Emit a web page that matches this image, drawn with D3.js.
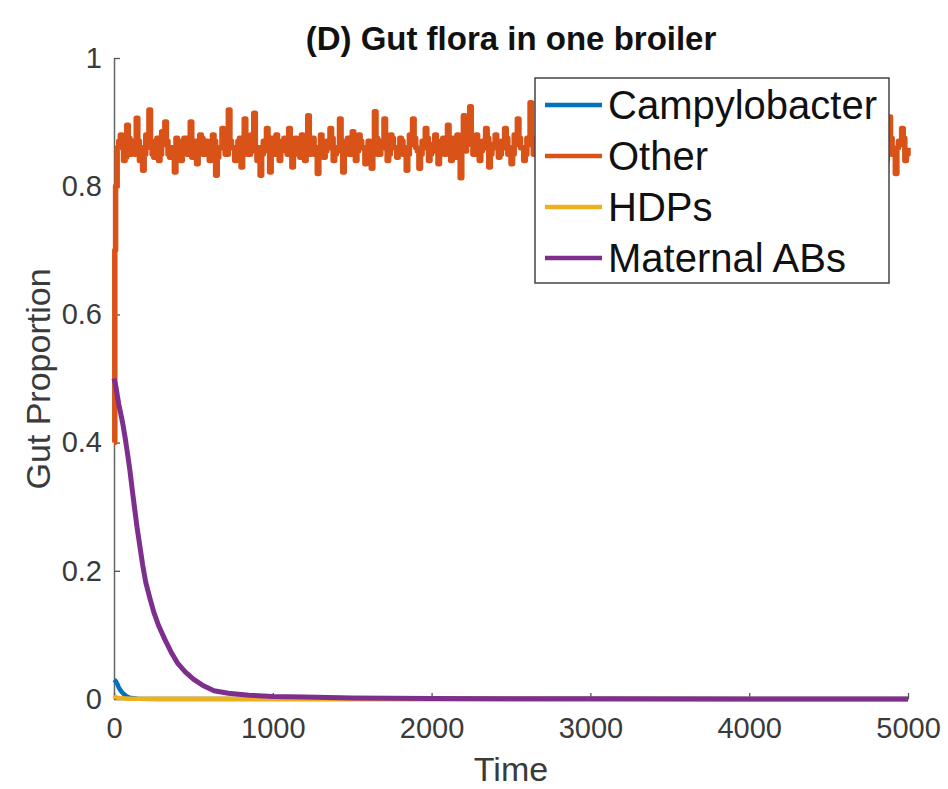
<!DOCTYPE html>
<html>
<head>
<meta charset="utf-8">
<script src="https://cdn.jsdelivr.net/npm/d3@7"></script>
<style>
  body { margin: 0; background: #fff; }
  text { font-family: "Liberation Sans", Arial, Helvetica, sans-serif; }
</style>
</head>
<body>
<div id="viz"></div>
<script>
// series
var seriesNames = ["Campylobacter", "Other", "HDPs", "Maternal ABs"];
var seriesColors = ["#0072BD", "#D95319", "#EDB120", "#7E2F8E"];

var campyT = [0, 10, 20, 30, 45, 60, 80, 100, 150, 300, 5000];
var campyV = [0.03, 0.028, 0.024, 0.018, 0.012, 0.008, 0.004, 0.002, 0.0005, 0, 0];

var hdpT = [0, 20, 50, 100, 5000];
var hdpV = [0.004, 0.002, 0.001, 0.0005, 0];

var abT = [0, 10, 20, 30, 40, 55, 70, 85, 100, 115, 130, 145, 160, 180, 200, 225, 250, 280, 320, 360,
  400, 450, 500, 560, 630, 720, 850, 1000, 1200, 1500, 2000, 3000, 4000, 5000];
var abV = [0.5, 0.49, 0.475, 0.46, 0.448, 0.43, 0.408, 0.383, 0.357, 0.326, 0.297, 0.268, 0.243, 0.21, 0.182, 0.158, 0.136, 0.115, 0.093, 0.073,
  0.056, 0.042, 0.031, 0.021, 0.013, 0.009, 0.006, 0.004, 0.003, 0.0015, 0.0008, 0.0003, 0.0001, 0];

// "Other": fast rise then noisy plateau
var otherStartT = [0, 5];
var otherStartV = [0.40, 0.70];
var otherStep = 20;
// values at t = 20, 40, ... 5000 (these carry the spikes)
var otherV = [
  0.86, 0.88, 0.84, 0.895, 0.85, 0.87, 0.906, 0.84, 0.825, 0.88,
  0.919, 0.85, 0.87, 0.84, 0.885, 0.90, 0.85, 0.86, 0.822, 0.87,
  0.84, 0.875, 0.85, 0.90, 0.86, 0.835, 0.88, 0.85, 0.87, 0.84,
  0.88, 0.817, 0.86, 0.89, 0.85, 0.919, 0.86, 0.84, 0.87, 0.83,
  0.905, 0.85, 0.88, 0.914, 0.84, 0.817, 0.87, 0.89, 0.822, 0.86,
  0.88, 0.84, 0.87, 0.855, 0.89, 0.83, 0.875, 0.85, 0.88, 0.84,
  0.91, 0.86, 0.85, 0.82, 0.88, 0.845, 0.87, 0.89, 0.84, 0.86,
  0.905, 0.822, 0.87, 0.85, 0.885, 0.84, 0.88, 0.86, 0.835, 0.87,
  0.828, 0.916, 0.85, 0.87, 0.905, 0.84, 0.88, 0.86, 0.845, 0.875,
  0.85, 0.825, 0.88, 0.905, 0.86, 0.828, 0.87, 0.89, 0.84, 0.865,
  0.88, 0.835, 0.87, 0.85, 0.895, 0.84, 0.86, 0.88, 0.813, 0.91,
  0.87, 0.924, 0.85, 0.88, 0.84, 0.87, 0.89, 0.83, 0.865, 0.88,
  0.845, 0.87, 0.89, 0.85, 0.835, 0.88, 0.905, 0.86, 0.84, 0.875,
  0.93, 0.85, 0.87, 0.84, 0.885, 0.86, 0.83, 0.89, 0.855, 0.87,
  0.84, 0.88, 0.86, 0.90, 0.85, 0.87, 0.825, 0.88, 0.86, 0.845,
  0.89, 0.85, 0.87, 0.83, 0.88, 0.91, 0.86, 0.84, 0.875, 0.85,
  0.87, 0.835, 0.88, 0.86, 0.895, 0.84, 0.87, 0.85, 0.82, 0.88,
  0.86, 0.90, 0.845, 0.87, 0.85, 0.885, 0.83, 0.87, 0.86, 0.89,
  0.84, 0.87, 0.915, 0.85, 0.86, 0.825, 0.88, 0.85, 0.87, 0.84,
  0.885, 0.86, 0.83, 0.87, 0.90, 0.85, 0.87, 0.84, 0.88, 0.86,
  0.845, 0.89, 0.86, 0.87, 0.82, 0.88, 0.85, 0.905, 0.86, 0.84,
  0.87, 0.85, 0.885, 0.83, 0.87, 0.86, 0.91, 0.84, 0.875, 0.85,
  0.86, 0.88, 0.84, 0.87, 0.895, 0.85, 0.825, 0.88, 0.86, 0.87,
  0.85, 0.89, 0.84, 0.86, 0.875, 0.83, 0.88, 0.90, 0.85, 0.87,
  0.86, 0.88, 0.84, 0.908, 0.85, 0.82, 0.87, 0.89, 0.84, 0.86
];
// values in between, at t = 10, 30, ... 4990 (the dense core of the band)
var otherMidV = [
  0.80, 0.87, 0.86, 0.845, 0.875, 0.855, 0.85, 0.87, 0.86, 0.85,
  0.87, 0.86, 0.845, 0.875, 0.85, 0.865, 0.87, 0.845, 0.86, 0.875,
  0.86, 0.85, 0.875, 0.855, 0.845, 0.87, 0.86, 0.875, 0.85, 0.865,
  0.855, 0.87, 0.845, 0.86, 0.875, 0.85, 0.87, 0.86, 0.845, 0.875,
  0.86, 0.875, 0.85, 0.865, 0.855, 0.86, 0.85, 0.87, 0.855, 0.875,
  0.85, 0.865, 0.855, 0.875, 0.85, 0.86, 0.855, 0.87, 0.845, 0.865,
  0.86, 0.85, 0.875, 0.86, 0.85, 0.87, 0.855, 0.86, 0.875, 0.85,
  0.86, 0.855, 0.86, 0.875, 0.85, 0.865, 0.855, 0.87, 0.86, 0.85,
  0.865, 0.86, 0.875, 0.85, 0.86, 0.87, 0.85, 0.875, 0.86, 0.85,
  0.87, 0.86, 0.85, 0.865, 0.875, 0.855, 0.85, 0.86, 0.875, 0.85,
  0.855, 0.87, 0.85, 0.875, 0.86, 0.865, 0.875, 0.845, 0.86, 0.87,
  0.855, 0.875, 0.865, 0.85, 0.87, 0.855, 0.86, 0.875, 0.85, 0.86,
  0.87, 0.85, 0.86, 0.875, 0.86, 0.85, 0.865, 0.875, 0.86, 0.85,
  0.865, 0.875, 0.85, 0.86, 0.855, 0.875, 0.86, 0.85, 0.87, 0.86,
  0.86, 0.85, 0.87, 0.855, 0.875, 0.86, 0.85, 0.865, 0.87, 0.855,
  0.85, 0.87, 0.86, 0.875, 0.855, 0.85, 0.87, 0.86, 0.85, 0.875,
  0.86, 0.87, 0.85, 0.865, 0.86, 0.875, 0.855, 0.86, 0.87, 0.85,
  0.875, 0.855, 0.86, 0.85, 0.87, 0.86, 0.875, 0.85, 0.865, 0.86,
  0.86, 0.85, 0.87, 0.86, 0.875, 0.855, 0.85, 0.87, 0.86, 0.875,
  0.85, 0.865, 0.875, 0.855, 0.86, 0.87, 0.85, 0.86, 0.855, 0.875,
  0.87, 0.855, 0.86, 0.85, 0.875, 0.86, 0.87, 0.85, 0.865, 0.86,
  0.855, 0.875, 0.86, 0.865, 0.85, 0.86, 0.875, 0.855, 0.86, 0.87,
  0.875, 0.86, 0.855, 0.85, 0.86, 0.87, 0.855, 0.86, 0.875, 0.85,
  0.86, 0.87, 0.855, 0.875, 0.85, 0.865, 0.86, 0.85, 0.87, 0.86,
  0.87, 0.855, 0.865, 0.86, 0.875, 0.85, 0.86, 0.865, 0.875, 0.85
];

var xTicks = [0, 1000, 2000, 3000, 4000, 5000];
var yTicks = [0, 0.2, 0.4, 0.6, 0.8, 1];

var W = 948, H = 789;

var svg = d3.select("#viz")
  .append("svg")
  .attr("width", W)
  .attr("height", H);

var x = d3.scaleLinear().domain([0, 5000]).range([114, 908]);
var y = d3.scaleLinear().domain([0, 1]).range([699, 58]);

function pairs(ts, vs) {
  return ts.map(function(t, i) { return [t, vs[i]]; });
}

// interleave mid and main samples: 10, 20, 30, 40 ...
var otherData = pairs(otherStartT, otherStartV);
otherV.forEach(function(v, i) {
  otherData.push([i * otherStep + otherStep / 2, otherMidV[i]]);
  otherData.push([(i + 1) * otherStep, v]);
});

var lines = [
  pairs(campyT, campyV),
  otherData,
  pairs(hdpT, hdpV),
  pairs(abT, abV)
];
var lineWidths = [4.5, 5.5, 4.5, 5];

var line = d3.line()
  .x(function(d) { return x(d[0]); })
  .y(function(d) { return y(d[1]); });

// the noisy one looks blocky in the original, steps get that
var stepLine = d3.line()
  .x(function(d) { return x(d[0]); })
  .y(function(d) { return y(d[1]); })
  .curve(d3.curveStepAfter);

// axes first, lines on top (as matlab does)
var yAxis = svg.append("g")
  .attr("transform", "translate(114,0)")
  .call(d3.axisLeft(y).tickValues(yTicks)
    .tickFormat(d3.format("~g"))
    .tickSizeInner(-6).tickSizeOuter(0).tickPadding(12));

var xAxis = svg.append("g")
  .attr("transform", "translate(0,699)")
  .call(d3.axisBottom(x).tickValues(xTicks)
    .tickFormat(d3.format("d"))
    .tickSizeInner(-6).tickSizeOuter(0).tickPadding(18));

[yAxis, xAxis].forEach(function(a) {
  a.select(".domain").attr("stroke", "#666").attr("stroke-width", 1.5);
  a.selectAll(".tick line").attr("stroke", "#555").attr("stroke-width", 1.3);
  a.selectAll(".tick text")
    .attr("fill", "#3a3a3a")
    .style("font-size", "29px");
});

svg.append("g")
  .selectAll("path")
  .data(lines)
  .enter()
  .append("path")
  .attr("d", function(d, i) { return i == 1 ? stepLine(d) : line(d); })
  .attr("fill", "none")
  .attr("stroke", function(d, i) { return seriesColors[i]; })
  .attr("stroke-width", function(d, i) { return lineWidths[i]; })
  .attr("stroke-linejoin", "round");

// title + labels
svg.append("text")
  .attr("x", 511).attr("y", 50)
  .attr("text-anchor", "middle")
  .style("font-size", "33px")
  .style("font-weight", "bold")
  .attr("fill", "#111")
  .text("(D) Gut flora in one broiler");

svg.append("text")
  .attr("x", 511).attr("y", 781)
  .attr("text-anchor", "middle")
  .style("font-size", "34px")
  .attr("fill", "#3a3a3a")
  .text("Time");

svg.append("text")
  .attr("transform", "translate(50,379) rotate(-90)")
  .attr("text-anchor", "middle")
  .style("font-size", "34px")
  .attr("fill", "#3a3a3a")
  .text("Gut Proportion");

// legend
var legend = svg.append("g");
legend.append("rect")
  .attr("x", 535).attr("y", 78)
  .attr("width", 354).attr("height", 205)
  .attr("fill", "#fff")
  .attr("stroke", "#444")
  .attr("stroke-width", 1.5);

var rowY = d3.scalePoint().domain(seriesNames).range([105, 258]);

var item = legend.selectAll("g.item")
  .data(seriesNames)
  .enter()
  .append("g")
  .attr("class", "item")
  .attr("transform", function(d) { return "translate(0," + rowY(d) + ")"; });

item.append("line")
  .attr("x1", 545).attr("x2", 602)
  .attr("stroke", function(d, i) { return seriesColors[i]; })
  .attr("stroke-width", 4.5);

item.append("text")
  .attr("x", 608).attr("y", 14)
  .style("font-size", "40px")
  .attr("fill", "#111")
  .text(function(d) { return d; });
</script>
</body>
</html>
